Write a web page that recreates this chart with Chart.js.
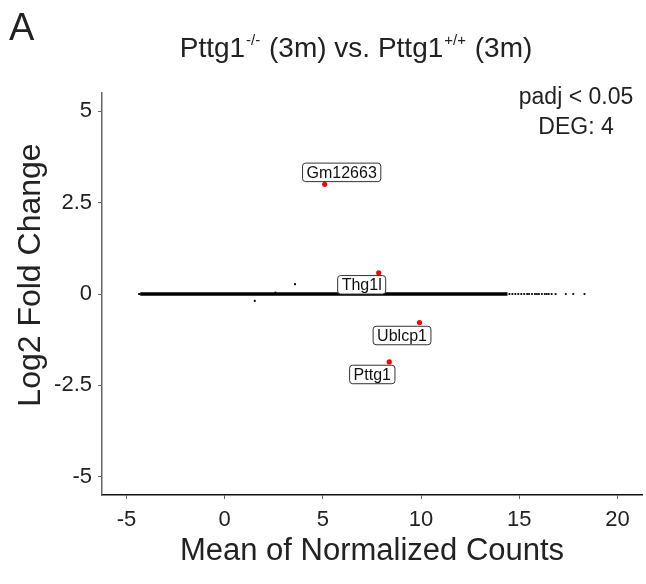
<!DOCTYPE html>
<html>
<head>
<meta charset="utf-8">
<script src="https://cdn.jsdelivr.net/npm/chart.js@4.4.1/dist/chart.umd.min.js"></script>
<style>
  html, body { margin: 0; padding: 0; background: #fff; }
  #wrap { width: 646px; height: 584px; }
</style>
</head>
<body>
<div id="wrap"><canvas id="maPlot" width="646" height="584"></canvas></div>
<script>
// MA plot: Pttg1-/- (3m) vs Pttg1+/+ (3m)
const xTicks = [-5, 0, 5, 10, 15, 20];
const yTicks = [-5, -2.5, 0, 2.5, 5];

// significant genes (padj < 0.05)
const degGenes = ["Gm12663", "Thg1l", "Ublcp1", "Pttg1"];
const degMean = [5.09, 7.84, 9.92, 8.38];
const degLfc = [3.0, 0.58, -0.78, -1.86];

// bulk of non-significant genes: dense band along LFC = 0
const bandMean = [-4.3, 14.4];
const bandLfc = [0, 0];

// scattered non-significant genes at the ends of the band and off it
const nsMean = [-4.36, -4.33, 14.5, 14.65, 14.8, 14.95, 15.1, 15.25, 15.4, 15.5,
  15.65, 15.8, 15.9, 16.0, 16.15, 16.3, 16.4, 16.5, 16.65, 16.85, 17.37, 17.75, 18.32,
  3.58, 1.53, 2.58];
const nsLfc = [0, 0, 0, 0, 0, 0, 0, 0, 0, 0,
  0, 0, 0, 0, 0, 0, 0, 0, 0, 0, 0, 0, 0,
  0.27, -0.19, 0.04];

const FONT = "'Liberation Sans', Arial, Helvetica, sans-serif";

// label box offsets from the point (pixels), like ggrepel placed them
const labelOffsets = [[17, -12], [-17, 12], [-17.5, 13], [-17, 12.5]];

const textPlugin = {
  id: "textPlugin",
  afterDatasetsDraw(chart) {
    const ctx = chart.ctx;
    const xs = chart.scales.x;
    const ys = chart.scales.y;

    // gene labels
    ctx.save();
    ctx.font = "16px " + FONT;
    ctx.textAlign = "center";
    ctx.textBaseline = "middle";
    degGenes.forEach((g, i) => {
      const px = xs.getPixelForValue(degMean[i]) + labelOffsets[i][0];
      const py = ys.getPixelForValue(degLfc[i]) + labelOffsets[i][1];
      const w = ctx.measureText(g).width + 8;
      const h = 18.5;
      ctx.beginPath();
      ctx.roundRect(px - w / 2, py - h / 2, w, h, 3);
      ctx.fillStyle = "#fff";
      ctx.fill();
      ctx.lineWidth = 1;
      ctx.strokeStyle = "#333";
      ctx.stroke();
      ctx.fillStyle = "#111";
      ctx.fillText(g, px, py + 1);
    });
    ctx.restore();
  },
  afterDraw(chart) {
    const ctx = chart.ctx;
    ctx.save();
    ctx.fillStyle = "#222";
    ctx.textBaseline = "alphabetic";

    // panel letter
    ctx.font = "38px " + FONT;
    ctx.textAlign = "left";
    ctx.fillText("A", 9, 40);

    // title with superscripts
    const parts = [
      ["Pttg1", false], ["-/-", true], [" (3m) vs. Pttg1", false], ["+/+", true], [" (3m)", false]
    ];
    const big = "28px " + FONT, small = "15px " + FONT;
    let total = 0;
    parts.forEach(([t, sup]) => {
      ctx.font = sup ? small : big;
      total += ctx.measureText(t).width + (sup ? 2 : 0);
    });
    let x = 356 - total / 2;
    parts.forEach(([t, sup]) => {
      ctx.font = sup ? small : big;
      ctx.fillText(t, x + (sup ? 1 : 0), sup ? 45 : 57);
      x += ctx.measureText(t).width + (sup ? 2 : 0);
    });

    // significance note
    ctx.font = "23px " + FONT;
    ctx.textAlign = "center";
    ctx.fillText("padj < 0.05", 576, 104);
    ctx.fillText("DEG: 4", 576, 134);

    // axis titles
    ctx.font = "31px " + FONT;
    ctx.fillText("Mean of Normalized Counts", 372, 560);
    ctx.font = "32px " + FONT;
    ctx.translate(40, 275);
    ctx.rotate(-Math.PI / 2);
    ctx.fillText("Log2 Fold Change", 0, 0);
    ctx.restore();
  }
};

new Chart(document.getElementById("maPlot"), {
  type: "scatter",
  data: {
    datasets: [
      {
        label: "DEG",
        data: degMean.map((m, i) => ({ x: m, y: degLfc[i] })),
        pointRadius: 2.6,
        pointBackgroundColor: "#ff0000",
        pointBorderWidth: 0,
      },
      {
        label: "NS",
        data: nsMean.map((m, i) => ({ x: m, y: nsLfc[i] })),
        pointRadius: 1.1,
        pointBackgroundColor: "#000",
        pointBorderWidth: 0,
      },
      {
        label: "NS band",
        type: "line",
        data: bandMean.map((m, i) => ({ x: m, y: bandLfc[i] })),
        borderColor: "#000",
        borderWidth: 3.4,
        pointRadius: 0,
        showLine: true,
      },
    ],
  },
  options: {
    responsive: false,
    animation: false,
    devicePixelRatio: 1,
    layout: { padding: { left: 0, top: 93, right: 4, bottom: 0 } },
    plugins: {
      legend: { display: false },
      tooltip: { enabled: false },
    },
    scales: {
      x: {
        type: "linear",
        min: -6.25,
        max: 21.25,
        afterBuildTicks: (s) => { s.ticks = xTicks.map((v) => ({ value: v })); },
        afterFit: (s) => { s.height = 89; },
        grid: { drawOnChartArea: false, drawTicks: true, tickLength: 4, color: "#666" },
        border: { display: true, color: "#111", width: 1.5 },
        ticks: {
          color: "#222",
          padding: 8,
          maxRotation: 0,
          font: { family: FONT, size: 22 },
          callback: (v) => String(v),
        },
      },
      y: {
        type: "linear",
        min: -5.5,
        max: 5.5,
        afterBuildTicks: (s) => { s.ticks = yTicks.map((v) => ({ value: v })); },
        afterFit: (s) => { s.width = 102; },
        grid: { drawOnChartArea: false, drawTicks: true, tickLength: 4, color: "#666" },
        border: { display: true, color: "#666", width: 1.5 },
        ticks: {
          color: "#222",
          padding: 6,
          font: { family: FONT, size: 22 },
          callback: (v) => String(v),
        },
      },
    },
  },
  plugins: [textPlugin],
});
</script>
</body>
</html>
